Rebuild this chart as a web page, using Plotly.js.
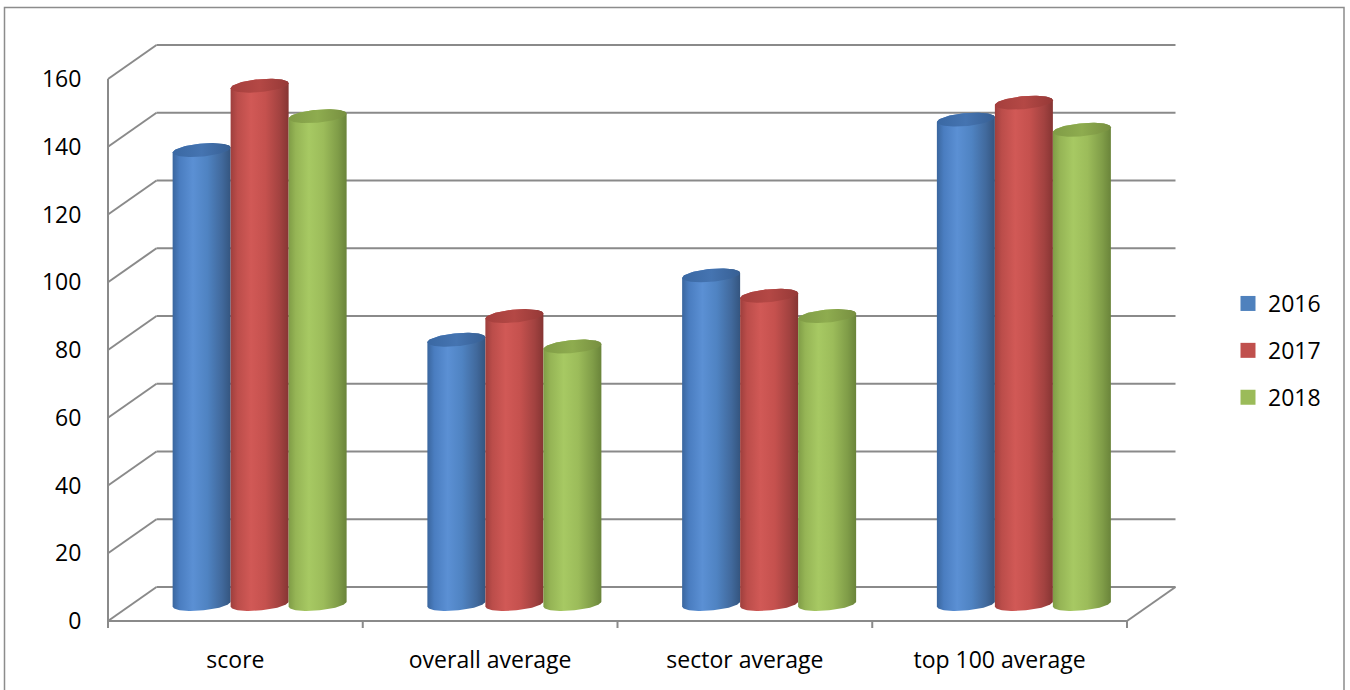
<!DOCTYPE html>
<html>
<head>
<meta charset="utf-8">
<script src="https://cdn.plot.ly/plotly-3.0.1.min.js"></script>
<style>
  html, body { margin: 0; padding: 0; background: #ffffff; }
  #chart { width: 1350px; height: 690px; }
</style>
</head>
<body>
<div id="chart"></div>
<script>
// ---- data ----
const categories = ['score', 'overall average', 'sector average', 'top 100 average'];
const years = ['2016', '2017', '2018'];
const values2016 = [134, 78, 97, 143];
const values2017 = [153, 85, 91, 148];
const values2018 = [144, 76, 85, 140];
const yTickValues = [0, 20, 40, 60, 80, 100, 120, 140, 160];

const seriesValues = [values2016, values2017, values2018];

// ---- styling ----
const FONT = 'Open Sans, Liberation Sans, Arial, sans-serif';
const GRID = '#8a8a8a';
const legendColors = ['#4f81bd', '#c0504d', '#9bbb59'];
const bodyScales = [
  [[0, '#3a669e'], [0.12, '#4a7dc0'], [0.35, '#5b90d4'], [0.6, '#4f83c2'], [0.85, '#41699c'], [1, '#34557f']],
  [[0, '#9e3f3d'], [0.12, '#bb4d4a'], [0.35, '#d15956'], [0.6, '#c5514e'], [0.85, '#a24240'], [1, '#863533']],
  [[0, '#7f9c46'], [0.12, '#95b455'], [0.35, '#a7c963'], [0.6, '#9cbc5a'], [0.85, '#809d48'], [1, '#6a843a']]
];
const capScales = [
  [[0, '#3a68a3'], [0.5, '#4574b1'], [1, '#375f93']],
  [[0, '#a53f3d'], [0.5, '#b44845'], [1, '#953937']],
  [[0, '#809c46'], [0.5, '#8eac4f'], [1, '#778f40']]
];

// ---- geometry of the pseudo-3D frame (pixels -> axis units) ----
const PX_X = 254.75;          // pixels per category
const PX_Y = 3.3875;          // pixels per value unit
const X0_PX = 108, Y0_PX = 621; // front-left corner of the floor
const L = 60, R = 1210, T = 20, B = 637; // plot area in pixels
const DX = 48.5 / PX_X;       // depth offset (x)
const DY = 34 / PX_Y;         // depth offset (y)
const BW = 58 / PX_X;         // cylinder diameter
const EB = 6.5 / PX_Y;        // ellipse half-height
const TILT = (5 / PX_Y) / BW; // slight perspective tilt of the ellipses
const nCat = categories.length;

const xRange = [(L - X0_PX) / PX_X, (R - X0_PX) / PX_X];
const yRange = [(Y0_PX - B) / PX_Y, (Y0_PX - T) / PX_Y];

function line(x0, y0, x1, y1, extra) {
  return Object.assign({
    type: 'line', xref: 'x', yref: 'y', x0, y0, x1, y1,
    line: { color: GRID, width: 2 }, layer: 'below'
  }, extra || {});
}

const shapes = [];
// back wall and left wall grid
yTickValues.forEach(v => {
  shapes.push(line(DX, v + DY, nCat + DX, v + DY));
  shapes.push(line(0, v, DX, v + DY));
});
// front-left vertical edge
shapes.push(line(0, 0, 0, yTickValues[yTickValues.length - 1]));
// floor front edge and right edge
shapes.push(line(0, 0, nCat, 0));
shapes.push(line(nCat, 0, nCat + DX, DY));
// category tick marks
for (let i = 0; i <= nCat; i++) {
  shapes.push(line(i, 0, i, -7 / PX_Y));
}
// outer border of the chart
const px2paperX = px => (px - L) / (R - L);
const px2paperY = py => (B - py) / (B - T);
shapes.push({
  type: 'rect', xref: 'paper', yref: 'paper',
  x0: px2paperX(4.5), x1: px2paperX(1344), y0: px2paperY(7.5), y1: px2paperY(700),
  line: { color: '#8c8c8c', width: 1.5 }, fillcolor: 'rgba(0,0,0,0)', layer: 'below'
});

// ---- cylinders ----
const N = 48;
function ellipsePoint(cx, cy, t) {
  const a = BW / 2;
  return [cx + a * Math.cos(t), cy + EB * Math.sin(t) + TILT * a * Math.cos(t)];
}

const traces = [];
for (let c = 0; c < nCat; c++) {
  for (let s = 0; s < years.length; s++) {
    const v = seriesValues[s][c];
    const cx = c + 0.5 + DX / 2 + (s - 1) * BW;
    const yb = DY / 2;
    const yt = v + DY / 2;
    const bx = [], by = [];
    // lower half of the base ellipse, left to right
    for (let k = 0; k <= N; k++) {
      const p = ellipsePoint(cx, yb, Math.PI + Math.PI * k / N);
      bx.push(p[0]); by.push(p[1]);
    }
    // upper half of the top ellipse, right to left
    for (let k = 0; k <= N; k++) {
      const p = ellipsePoint(cx, yt, Math.PI * k / N);
      bx.push(p[0]); by.push(p[1]);
    }
    bx.push(bx[0]); by.push(by[0]);
    traces.push({
      type: 'scatter', mode: 'lines', x: bx, y: by,
      fill: 'toself', line: { width: 0 }, hoverinfo: 'skip', showlegend: false,
      fillcolor: legendColors[s],
      fillgradient: { type: 'horizontal', colorscale: bodyScales[s] }
    });
    const tx = [], ty = [];
    for (let k = 0; k <= 2 * N; k++) {
      const p = ellipsePoint(cx, yt, 2 * Math.PI * k / (2 * N));
      tx.push(p[0]); ty.push(p[1]);
    }
    traces.push({
      type: 'scatter', mode: 'lines', x: tx, y: ty,
      fill: 'toself', line: { width: 0 }, hoverinfo: 'skip', showlegend: false,
      fillcolor: legendColors[s],
      fillgradient: { type: 'horizontal', colorscale: capScales[s] }
    });
  }
}

// legend entries
years.forEach((yr, s) => {
  traces.push({
    type: 'scatter', mode: 'markers', x: [null], y: [null], name: yr,
    legendgroup: yr,
    marker: { symbol: 'square', size: 15, color: legendColors[s] }
  });
});

const layout = {
  width: 1350, height: 690,
  margin: { l: L, r: 1350 - R, t: T, b: 690 - B },
  paper_bgcolor: '#ffffff', plot_bgcolor: 'rgba(0,0,0,0)',
  font: { family: FONT, size: 23, color: '#000000' },
  showlegend: true,
  legend: {
    xref: 'container', yref: 'container',
    x: 1228 / 1350, y: 1 - 282 / 690, xanchor: 'left', yanchor: 'top',
    traceorder: 'grouped', tracegroupgap: 14,
    font: { family: FONT, size: 23, color: '#000000' },
    bgcolor: 'rgba(0,0,0,0)'
  },
  xaxis: {
    range: xRange, showgrid: false, zeroline: false, showline: false,
    tickmode: 'array', tickvals: categories.map((_, i) => i + 0.5), ticktext: categories,
    ticks: 'outside', ticklen: 2, tickcolor: 'rgba(0,0,0,0)',
    tickfont: { family: FONT, size: 23, color: '#000000' },
    fixedrange: true
  },
  yaxis: {
    range: yRange, showgrid: false, zeroline: false, showline: false,
    anchor: 'free', position: (X0_PX - L) / (R - L),
    tickmode: 'array', tickvals: yTickValues,
    ticks: 'outside', ticklen: 22, tickcolor: 'rgba(0,0,0,0)',
    tickfont: { family: FONT, size: 23, color: '#000000' },
    fixedrange: true
  },
  shapes: shapes
};

Plotly.newPlot('chart', traces, layout, { displayModeBar: false, staticPlot: true });
</script>
</body>
</html>
